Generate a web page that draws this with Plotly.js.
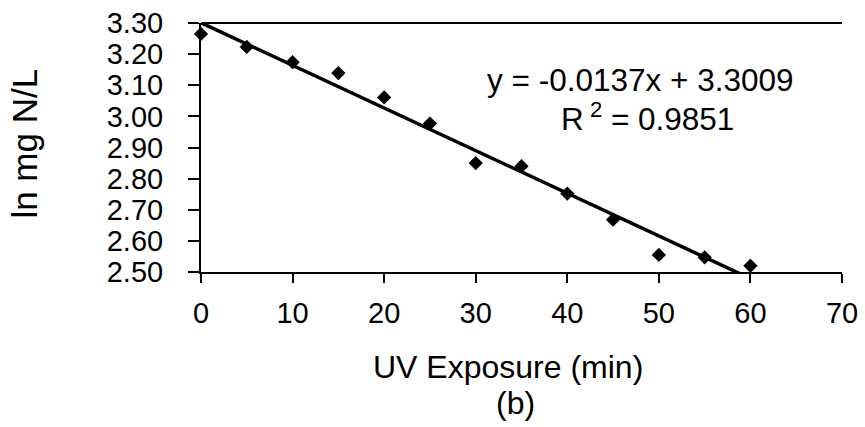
<!DOCTYPE html>
<html>
<head>
<meta charset="utf-8">
<script src="https://cdn.plot.ly/plotly-3.0.1.min.js"></script>
<style>html,body{margin:0;padding:0;background:#fff;}#chart{width:865px;height:427px;}</style>
</head>
<body>
<div id="chart"></div>
<script>
// Data
var exposureMin = [0, 5, 10, 15, 20, 25, 30, 35, 40, 45, 50, 55, 60];
var lnMgNL = [3.265, 3.223, 3.174, 3.139, 3.061, 2.977, 2.850, 2.840, 2.752, 2.668, 2.555, 2.547, 2.520];
var trendSlope = -0.0137;
var trendIntercept = 3.3009;
var trendX = [0, 60];
var equationText = 'y = -0.0137x + 3.3009';
var r2Text = '0.9851';

var FONT = 'Liberation Sans, Arial, sans-serif';

var trendY = trendX.map(function (x) { return trendSlope * x + trendIntercept; });

var traces = [
  {
    x: exposureMin, y: lnMgNL, type: 'scatter', mode: 'markers',
    marker: {symbol: 'diamond', size: 11, color: '#000'},
    cliponaxis: false, showlegend: false, hoverinfo: 'x+y'
  },
  {
    x: trendX, y: trendY, type: 'scatter', mode: 'lines',
    line: {color: '#000', width: 3.5}, showlegend: false, hoverinfo: 'skip'
  }
];

var layout = {
  width: 865, height: 427,
  margin: {l: 201, r: 23, t: 23, b: 155},
  paper_bgcolor: '#fff', plot_bgcolor: '#fff',
  font: {family: FONT, color: '#000', size: 29},
  showlegend: false,
  xaxis: {
    range: [0, 70], dtick: 10, tick0: 0,
    ticks: 'outside', ticklen: 9, tickwidth: 2, tickcolor: '#000',
    showline: true, linewidth: 2, linecolor: '#000',
    showgrid: false, zeroline: false,
    tickfont: {family: FONT, size: 29, color: '#000'},
    ticklabelstandoff: 5
  },
  yaxis: {
    range: [2.5, 3.3], dtick: 0.1, tick0: 2.5, tickformat: '.2f',
    ticks: 'outside', ticklen: 11, tickwidth: 2, tickcolor: '#000',
    showline: true, linewidth: 2, linecolor: '#000',
    showgrid: false, zeroline: false,
    tickfont: {family: FONT, size: 29, color: '#000'},
    ticklabelstandoff: 19
  },
  shapes: [
    {type: 'line', xref: 'paper', yref: 'paper', x0: 0, x1: 1, y0: 1, y1: 1,
     line: {color: '#000', width: 2}}
  ],
  annotations: [
    {xref: 'paper', yref: 'paper', x: 0.685, y: 0.771, xanchor: 'center', yanchor: 'middle',
     showarrow: false, text: equationText,
     font: {family: FONT, size: 31.5, color: '#000'}},
    {xref: 'paper', yref: 'paper', x: 0.696, y: 0.622, xanchor: 'center', yanchor: 'middle',
     showarrow: false, text: 'R<sup> 2</sup> = ' + r2Text,
     font: {family: FONT, size: 31.5, color: '#000'}},
    {xref: 'paper', yref: 'paper', x: 0.479, y: -0.3815, xanchor: 'center', yanchor: 'middle',
     showarrow: false, text: 'UV Exposure (min)',
     font: {family: FONT, size: 32, color: '#000'}},
    {xref: 'paper', yref: 'paper', x: 0.491, y: -0.526, xanchor: 'center', yanchor: 'middle',
     showarrow: false, text: '(b)',
     font: {family: FONT, size: 32, color: '#000'}},
    {xref: 'paper', yref: 'paper', x: -0.276, y: 0.516, xanchor: 'center', yanchor: 'middle',
     showarrow: false, textangle: -90, text: 'ln mg N/L',
     font: {family: FONT, size: 35, color: '#000'}}
  ]
};

Plotly.newPlot('chart', traces, layout, {staticPlot: true, displayModeBar: false});
</script>
</body>
</html>
